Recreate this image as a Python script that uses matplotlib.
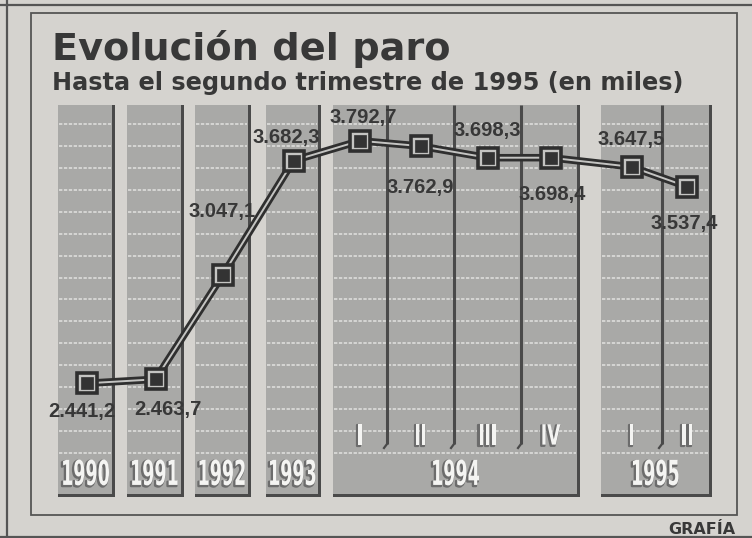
import matplotlib
matplotlib.use("Agg")
import matplotlib.pyplot as plt
from matplotlib.patches import Rectangle
from matplotlib.patheffects import AbstractPathEffect
from matplotlib.transforms import Affine2D
from matplotlib.colors import to_rgba

# ---------------- data ----------------
periods = ['1990', '1991', '1992', '1993',
           '1994 I', '1994 II', '1994 III', '1994 IV',
           '1995 I', '1995 II']
values = [2441.2, 2463.7, 3047.1, 3682.3,
          3792.7, 3762.9, 3698.3, 3698.4,
          3647.5, 3537.4]
year_labels = ['1990', '1991', '1992', '1993', '1994', '1995']
quarter_labels = ['I', 'II', 'III', 'IV', 'I', 'II']
title = 'Evolución del paro'
subtitle = 'Hasta el segundo trimestre de 1995 (en miles)'
credit = 'GRAFÍA'

# ---------------- layout (pixel space) ----------------
W, H = 752, 538
PAPER = '#d5d3cf'
PANEL = '#a9a9a7'
EDGE = '#4a4a4a'
INK = '#383838'
GRID = '#e2e2e0'

year_panels = [(58, 115), (127, 184), (195, 251), (266, 321), (333, 580), (601, 712)]
q94_edges = [333, 387, 454, 521, 580]
q95_edges = [601, 662, 712]
panel_top, panel_bot = 105, 497
plot_top_px, plot_bot_px = 105, 495
ylim = (1819, 3992)

# x slot of each period = centre of its column / sub-column
slots = [(a + b) / 2 for a, b in year_panels[:4]]
slots += [(q94_edges[i] + q94_edges[i + 1]) / 2 for i in range(4)]
slots += [(q95_edges[i] + q95_edges[i + 1]) / 2 for i in range(2)]

# label offsets (pixels) relative to each marker
label_off = [(-5, -28), (12, -30), (-1, 63), (-7, 23), (3, 23),
             (0, -41), (0, 27), (2, -37), (0, 27), (-3, -37)]


class Stretch(AbstractPathEffect):
    """Draw text condensed (sx) and elongated (sy), with a grey drop shadow."""
    def __init__(self, sx=0.8, sy=1.5, shadow='#6c6c6c', off=(-1.2, -1.2), lw=1.6):
        super().__init__()
        self.sx, self.sy, self.off, self.lw = sx, sy, off, lw
        self.shadow = to_rgba(shadow)

    def draw_path(self, renderer, gc, tpath, affine, rgbFace=None):
        ext = tpath.get_extents(affine)
        cx = 0.5 * (ext.x0 + ext.x1)
        cy = 0.5 * (ext.y0 + ext.y1)
        a = affine + Affine2D().translate(-cx, -cy).scale(self.sx, self.sy).translate(cx, cy)
        g = renderer.new_gc()
        g.copy_properties(gc)
        g.set_foreground(self.shadow)
        g.set_linewidth(self.lw)
        renderer.draw_path(g, tpath, a + Affine2D().translate(*self.off), self.shadow)
        g.restore()
        renderer.draw_path(gc, tpath, a, rgbFace)


fig = plt.figure(figsize=(W / 100, H / 100), dpi=100)
fig.patch.set_facecolor(PAPER)

bg = fig.add_axes([0, 0, 1, 1])
bg.set_xlim(0, W)
bg.set_ylim(H, 0)
bg.axis('off')

# frames
bg.plot([0, W], [5, 5], color='#555555', lw=1.6)
bg.plot([6.5, 6.5], [0, H], color='#555555', lw=1.6)
bg.plot([0, W], [536.5, 536.5], color='#555555', lw=1.6)
bg.add_patch(Rectangle((31, 13), 737 - 31, 515 - 13, fill=False,
                       ec='#555555', lw=1.3))

# panels
grid_y = [124 + k * 21.93 for k in range(16)]
for x0, x1 in year_panels:
    bg.add_patch(Rectangle((x0, panel_top), x1 - x0, panel_bot - panel_top,
                           fc=PANEL, ec='none', zorder=1))
    bg.add_patch(Rectangle((x1 - 3, panel_top), 3, panel_bot - panel_top,
                           fc=EDGE, ec='none', zorder=2))
    bg.add_patch(Rectangle((x0, panel_bot - 3.5), x1 - x0, 3.5,
                           fc=EDGE, ec='none', zorder=2))
    for gy in grid_y:
        bg.plot([x0 + 1, x1 - 4], [gy, gy], color=GRID, lw=1.1,
                ls=(0, (2.2, 1.0)), zorder=1.5)

for xe in q94_edges[1:-1] + q95_edges[1:-1]:
    bg.plot([xe, xe], [panel_top, 444], color=EDGE, lw=2.2,
            solid_capstyle='butt', zorder=2)
    bg.plot([xe, xe - 3], [444, 448], color=EDGE, lw=1.6, zorder=2)

# year labels (white, tall and condensed)
year_centres = [(a + b) / 2 for a, b in year_panels]
for xc, lab in zip(year_centres, year_labels):
    bg.text(xc - 1, 474, lab, ha='center', va='center', color='#f4f4f2',
            fontsize=15, fontweight='bold', family='DejaVu Sans',
            path_effects=[Stretch(sx=0.84, sy=1.65)], zorder=3)

quarter_centres = slots[4:]
for xc, lab in zip(quarter_centres, quarter_labels):
    bg.text(xc, 436, lab, ha='center', va='center', color='#f4f4f2',
            fontsize=13, fontweight='bold', family='DejaVu Sans',
            path_effects=[Stretch(sx=0.95, sy=1.55)], zorder=3)

# titles
bg.text(52, 60, title, ha='left', va='baseline', color=INK,
        fontsize=27.5, fontweight='bold', family='DejaVu Sans')
bg.text(52, 90, subtitle, ha='left', va='baseline', color=INK,
        fontsize=17.3, fontweight='bold', family='DejaVu Sans')
bg.text(735, 534, credit, ha='right', va='baseline', color=INK,
        fontsize=11.5, fontweight='bold', family='DejaVu Sans')

# ---------------- data axes ----------------
ax = fig.add_axes([0, (H - plot_bot_px) / H, 1, (plot_bot_px - plot_top_px) / H])
ax.set_xlim(0, W)
ax.set_ylim(*ylim)
ax.axis('off')
ax.patch.set_alpha(0)

ax.plot(slots, values, color='#2f2f2f', lw=5.4, solid_joinstyle='miter',
        solid_capstyle='butt', zorder=3)
ax.plot(slots, values, color='#c4c4c2', lw=1.4, solid_joinstyle='miter',
        zorder=4)
ax.plot(slots, values, ls='none', marker='s', ms=14.5, mfc='#c4c4c2',
        mec='#2f2f2f', mew=2.6, zorder=5)
ax.plot(slots, values, ls='none', marker='s', ms=8.5, mfc='#333333',
        mec='#333333', mew=0.5, zorder=6)


def fmt(v):
    s = f'{v:,.1f}'
    return s.replace(',', 'X').replace('.', ',').replace('X', '.')


for x, v, (dx, dy) in zip(slots, values, label_off):
    ax.annotate(fmt(v), (x, v), xytext=(dx, dy), textcoords='offset pixels',
                ha='center', va='center', color=INK, fontsize=14.5,
                fontweight='bold', family='Liberation Sans', zorder=7)

fig.savefig('out.png', dpi=100, facecolor=PAPER)
